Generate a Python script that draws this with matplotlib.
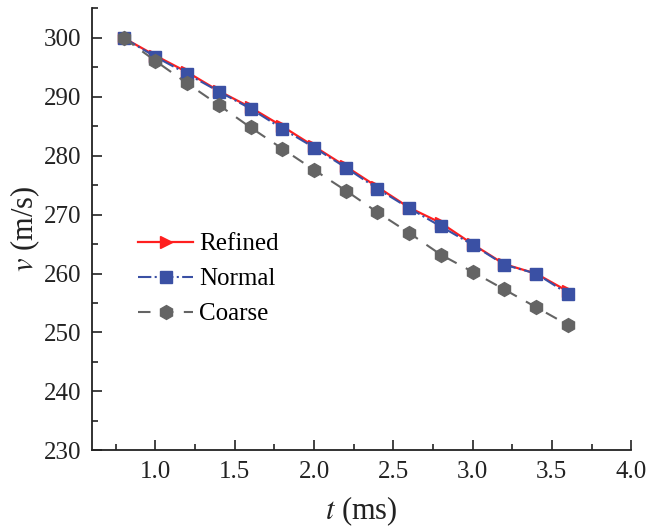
import numpy as np
import matplotlib
matplotlib.use("Agg")
import matplotlib.pyplot as plt
from matplotlib.ticker import MultipleLocator

plt.rcParams['font.family'] = ['Liberation Serif', 'DejaVu Serif']
plt.rcParams['mathtext.fontset'] = 'stix'

# velocity vs time for three mesh resolutions
t = [0.8, 1.0, 1.2, 1.4, 1.6, 1.8, 2.0, 2.2, 2.4, 2.6, 2.8, 3.0, 3.2, 3.4, 3.6]
v_refined = [300.0, 297.0, 294.2, 291.0, 288.2, 285.0, 281.6, 278.2, 274.7, 271.2,
             268.6, 265.0, 261.6, 260.0, 257.0]
v_normal = [300.0, 296.8, 293.9, 290.9, 288.0, 284.6, 281.4, 278.0, 274.4, 271.1,
            268.0, 264.9, 261.5, 260.0, 256.6]
v_coarse = [300.0, 296.1, 292.3, 288.6, 284.8, 281.2, 277.6, 274.1, 270.4, 266.9,
            263.2, 260.3, 257.3, 254.3, 251.3]

fig = plt.figure(figsize=(6.48, 5.31), dpi=100)
ax = fig.add_axes([0.142, 0.152, 0.832, 0.832])

ax.plot(t, v_refined, color='#ff1f1f', linestyle='-', linewidth=1.6,
        marker='>', markersize=8, label='Refined', zorder=3)
ax.plot(t, v_normal, color='#3a50a4', linestyle='-.', linewidth=1.5,
        marker='s', markersize=8.5, label='Normal', zorder=4)
ax.plot(t, v_coarse, color='#646464', linestyle=(0, (6, 5)), linewidth=1.5,
        marker='h', markersize=10, label='Coarse', zorder=5)

ax.set_xlim(0.6, 4.0)
ax.set_ylim(230, 305)
ax.xaxis.set_minor_locator(MultipleLocator(0.25))
ax.yaxis.set_major_locator(MultipleLocator(10))
ax.yaxis.set_minor_locator(MultipleLocator(5))
ax.set_xticks([1.0, 1.5, 2.0, 2.5, 3.0, 3.5, 4.0])
ax.set_xticklabels(['1.0', '1.5', '2.0', '2.5', '3.0', '3.5', '4.0'])

for side in ['top', 'right']:
    ax.spines[side].set_visible(False)
for side in ['left', 'bottom']:
    ax.spines[side].set_linewidth(1.3)
    ax.spines[side].set_color('#222222')

ax.tick_params(which='major', direction='in', length=7, width=1.2, labelsize=18,
               colors='#222222', pad=8)
ax.tick_params(which='minor', direction='in', length=4, width=1.2, colors='#222222')

ax.set_xlabel('$t$ (ms)', fontsize=22, color='#222222', labelpad=8)
ax.set_ylabel('$v$ (m/s)', fontsize=22, color='#222222', labelpad=1)

ax.legend(loc='upper left', bbox_to_anchor=(0.067, 0.515), frameon=False,
          fontsize=18, handlelength=2.2, handletextpad=0.25, labelspacing=0.5,
          borderaxespad=0)

fig.savefig('out.png', dpi=100)
